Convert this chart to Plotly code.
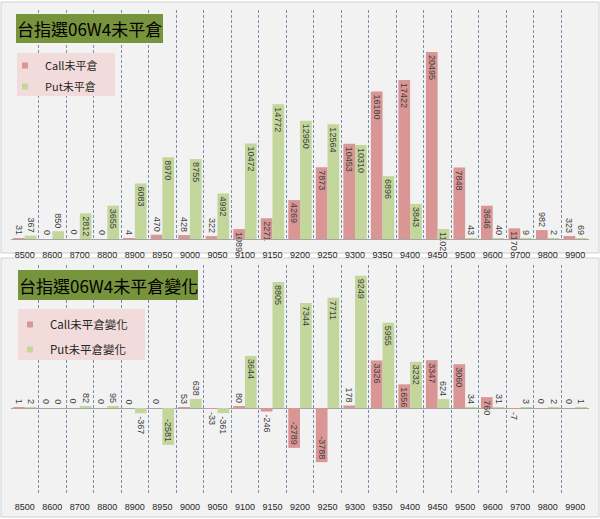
import plotly.graph_objects as go

strikes = ['8500', '8600', '8700', '8800', '8900', '8950', '9000', '9050', '9100', '9150', '9200',
           '9250', '9300', '9350', '9400', '9450', '9500', '9600', '9700', '9800', '9900']
call_oi = [31, 0, 0, 0, 4, 470, 428, 322, 1089, 2271, 4269, 7873, 10453, 16180, 17422, 20495,
           7848, 3646, 1170, 982, 323]
put_oi = [367, 850, 2812, 3655, 6083, 8970, 8755, 4992, 10472, 14772, 12950, 12564, 10310, 6896,
          3843, 1102, 43, 40, 9, 2, 69]
call_chg = [1, 0, 0, 0, 0, 0, 53, -33, 80, -246, -2789, -3788, 178, 3326, 1656, 3347, 3060, 760,
            -7, 0, 0]
put_chg = [2, 0, 82, 95, -367, -2581, 638, -361, 3644, 8805, 7344, 7711, 9249, 5955, 3232, 624,
           34, 31, 3, 2, 1]

title_top = '台指選06W4未平倉'
title_bot = '台指選06W4未平倉變化'
name_call_top = 'Call未平倉'
name_put_top = 'Put未平倉'
name_call_bot = 'Call未平倉變化'
name_put_bot = 'Put未平倉變化'

W, H = 600, 519
CALL_C = '#d99694'
PUT_C = '#c3d69b'
LBL = '#404040'
CJK = 'Noto Sans CJK TC'
NUMF = 'Liberation Sans'
BARGAP = 0.15
HALF = (1 - BARGAP) / 4  # offset of each bar centre from the category centre (category units)
N = len(strikes)


def px(x):
    return x / W


def py(y):
    return 1 - y / H


fig = go.Figure()


def bars(x, y, name, color, xa, ya):
    return go.Bar(
        x=x, y=y, name=name, marker=dict(color=color, line=dict(width=0)),
        xaxis=xa, yaxis=ya, showlegend=False,
        text=[str(v) for v in y], textposition='auto', textangle=90,
        insidetextanchor='end', constraintext='none', cliponaxis=False,
        insidetextfont=dict(family=NUMF, size=9, color=LBL),
        outsidetextfont=dict(family=NUMF, size=9, color=LBL),
        hoverinfo='x+y+name')


fig.add_trace(bars(strikes, call_oi, name_call_top, CALL_C, 'x', 'y'))
fig.add_trace(bars(strikes, put_oi, name_put_top, PUT_C, 'x', 'y'))
fig.add_trace(bars(strikes, call_chg, name_call_bot, CALL_C, 'x2', 'y2'))
fig.add_trace(bars(strikes, put_chg, name_put_bot, PUT_C, 'x2', 'y2'))

# legend entries (marker-only proxies matching the bar colours)
for nm, col, lg, grp in [(name_call_top, CALL_C, 'legend', 'a'), (name_put_top, PUT_C, 'legend', 'b'),
                         (name_call_bot, CALL_C, 'legend2', 'c'), (name_put_bot, PUT_C, 'legend2', 'd')]:
    fig.add_trace(go.Scatter(x=[None], y=[None], mode='markers', name=nm, legend=lg, legendgroup=grp,
                             marker=dict(symbol='square', size=6, color=col), xaxis='x', yaxis='y'))

axis_x = dict(type='category', tickson='boundaries', showgrid=True, gridcolor='#7a8fab',
              griddash='3px,2px', gridwidth=1, ticks='', fixedrange=True, tickangle=0,
              range=[-0.5, N - 0.5], autorange=False,
              tickfont=dict(family=NUMF, size=9, color='#262626'))

fig.update_layout(
    width=W, height=H, margin=dict(l=0, r=0, t=0, b=0),
    paper_bgcolor='white', plot_bgcolor='rgba(0,0,0,0)',
    barmode='group', bargap=BARGAP, bargroupgap=0,
    xaxis=dict(axis_x, domain=[px(11), px(589)], anchor='y', showline=True,
               linecolor='#a6a6a6', ticklabelstandoff=7),
    yaxis=dict(domain=[py(239), py(10)], range=[0, 25100], showticklabels=False,
               showgrid=False, zeroline=False, fixedrange=True),
    xaxis2=dict(axis_x, domain=[px(11), px(589)], anchor='y2', showline=False,
                ticklabelstandoff=7),
    yaxis2=dict(domain=[py(493), py(265)], range=[-5944, 10000], showticklabels=False,
                showgrid=False, zeroline=True, zerolinecolor='#a6a6a6', zerolinewidth=1,
                fixedrange=True),
    legend=dict(x=px(5), y=py(51), xanchor='left', yanchor='top', bgcolor='rgba(0,0,0,0)',
                font=dict(family=CJK, size=11, color='#262626'), tracegroupgap=2,
                traceorder='grouped', itemsizing='trace'),
    legend2=dict(x=px(10), y=py(310), xanchor='left', yanchor='top', bgcolor='rgba(0,0,0,0)',
                 font=dict(family=CJK, size=11.5, color='#262626'), tracegroupgap=6,
                 traceorder='grouped', itemsizing='trace'),
    showlegend=True,
)

shapes = [
    # panel backgrounds
    dict(type='rect', xref='paper', yref='paper', x0=px(1), x1=px(599), y0=py(253), y1=py(2),
         fillcolor='#f2f2f2', line=dict(color='#d0d0d0', width=1), layer='below'),
    dict(type='rect', xref='paper', yref='paper', x0=px(1), x1=px(599), y0=py(517), y1=py(258),
         fillcolor='#f2f2f2', line=dict(color='#d0d0d0', width=1), layer='below'),
    # title boxes
    dict(type='rect', xref='paper', yref='paper', x0=px(16), x1=px(163), y0=py(43), y1=py(14),
         fillcolor='#77933c', line=dict(width=0), layer='above'),
    dict(type='rect', xref='paper', yref='paper', x0=px(18), x1=px(198), y0=py(300), y1=py(270),
         fillcolor='#77933c', line=dict(width=0), layer='above'),
    # legend boxes
    dict(type='rect', xref='paper', yref='paper', x0=px(17), x1=px(115), y0=py(96), y1=py(53),
         fillcolor='#f2dcdb', line=dict(width=0), layer='above'),
    dict(type='rect', xref='paper', yref='paper', x0=px(18), x1=px(145), y0=py(360), y1=py(309),
         fillcolor='#f2dcdb', line=dict(width=0), layer='above'),
]
fig.update_layout(shapes=shapes)

fig.add_annotation(text=title_top, xref='paper', yref='paper', x=px(89.5), y=py(28.5),
                   xanchor='center', yanchor='middle', showarrow=False,
                   font=dict(family=CJK, size=17, color='#000000'))
fig.add_annotation(text=title_bot, xref='paper', yref='paper', x=px(108), y=py(285),
                   xanchor='center', yanchor='middle', showarrow=False,
                   font=dict(family=CJK, size=17, color='#000000'))

# plotly draws no text for zero-height bars; label those bars here
for vals, sgn, xa, ya in [(call_oi, -1, 'x', 'y'), (put_oi, 1, 'x', 'y'),
                          (call_chg, -1, 'x2', 'y2'), (put_chg, 1, 'x2', 'y2')]:
    for i, v in enumerate(vals):
        if v == 0:
            fig.add_annotation(text=str(v), x=i + sgn * HALF, y=v, xref=xa, yref=ya,
                               showarrow=False, textangle=90, xanchor='center',
                               yanchor='bottom', yshift=2,
                               font=dict(family=NUMF, size=9, color=LBL))

fig.write_html('out.html', post_script="document.body.style.margin='0';",
               config={'displayModeBar': False})
